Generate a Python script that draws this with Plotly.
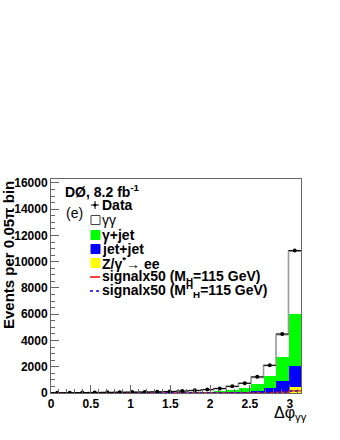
import numpy as np
import plotly.graph_objects as go

# 20 bins of 0.05*pi in delta phi
nbins = 20
bw = np.pi / nbins
edges = np.arange(nbins) * bw

# event counts per bin
data_counts = [15, 20, 30, 40, 50, 60, 70, 80, 95, 120, 150, 200, 260, 340, 510, 740, 1230, 2110, 4500, 10850]
zee = [2, 2, 3, 3, 3, 4, 4, 5, 5, 6, 7, 8, 10, 12, 15, 20, 25, 35, 60, 450]
jetjet = [3, 3, 4, 5, 6, 7, 8, 9, 10, 12, 14, 18, 22, 30, 45, 70, 120, 340, 840, 1620]
gamjet = [4, 5, 7, 9, 11, 13, 15, 18, 22, 28, 35, 50, 70, 100, 180, 300, 520, 900, 1840, 3940]
diphoton = [4, 6, 10, 14, 18, 22, 26, 30, 38, 50, 70, 100, 140, 190, 260, 350, 520, 820, 1700, 4800]
sig_a = [3, 3, 3, 4, 4, 4, 5, 5, 5, 6, 6, 7, 8, 9, 11, 14, 20, 35, 70, 160]
sig_b = [2, 2, 3, 3, 3, 4, 4, 4, 5, 5, 6, 6, 7, 8, 10, 13, 18, 30, 60, 140]

fig = go.Figure()

# stacked backgrounds, bottom to top
stack = [("Z/γ*→ ee", zee, "#ffff00"),
         ("jet+jet", jetjet, "#0000ff"),
         ("γ+jet", gamjet, "#00ff00"),
         ("γγ", diphoton, "#ffffff")]
for name, vals, col in stack:
    fig.add_trace(go.Bar(x=edges, y=vals, width=bw, offset=0, name=name,
                         marker=dict(color=col, line=dict(width=0)), showlegend=False))

# grey outline of the total stack
total = np.sum([zee, jetjet, gamjet, diphoton], axis=0)
step_x = np.append(edges, np.pi)
step_y = np.append(total, total[-1])
fig.add_trace(go.Scatter(x=np.insert(step_x, 0, 0), y=np.insert(step_y, 0, 0), mode="lines",
                         line=dict(shape="hv", color="#9a9a9a", width=1.6), showlegend=False))

# signal x50 curves
fig.add_trace(go.Scatter(x=step_x, y=np.append(sig_a, sig_a[-1]), mode="lines",
                         line=dict(shape="hv", color="#ff0000", width=1.2), showlegend=False))
fig.add_trace(go.Scatter(x=step_x, y=np.append(sig_b, sig_b[-1]), mode="lines",
                         line=dict(shape="hv", color="#0000ff", width=1.2, dash="dot"), showlegend=False))

# data points with bin-width x errors
fig.add_trace(go.Scatter(x=edges + bw / 2, y=data_counts, mode="markers",
                         marker=dict(color="black", size=4),
                         error_x=dict(type="constant", value=bw / 2, color="black", thickness=1, width=0),
                         showlegend=False))

# pixel -> paper helpers (plot box 51..301 x 179..393)
def px(x):
    return (x - 51) / 250.0

def py(y):
    return (393 - y) / 214.0

tf = dict(family="Liberation Sans", size=12, color="black", weight="bold")
fig.update_layout(
    width=340, height=440,
    margin=dict(l=51, r=39, t=179, b=47),
    paper_bgcolor="white", plot_bgcolor="white",
    barmode="stack", bargap=0,
    xaxis=dict(range=[0, np.pi], tickvals=[0, 0.5, 1, 1.5, 2, 2.5, 3],
               ticktext=["0", "0.5", "1", "1.5", "2", "2.5", "3"],
               ticks="inside", ticklen=8, tickcolor="#666", tickwidth=1,
               minor=dict(dtick=0.1, ticks="inside", ticklen=4, tickcolor="#666"),
               showline=True, linecolor="#666", linewidth=1, mirror=True,
               showgrid=False, zeroline=False, tickfont=tf, automargin=False),
    yaxis=dict(range=[0, 16300], tickvals=list(range(0, 16001, 2000)), tickformat="d",
               ticks="inside", ticklen=8, tickcolor="#666", tickwidth=1,
               minor=dict(dtick=500, ticks="inside", ticklen=4, tickcolor="#666"),
               showline=True, linecolor="#666", linewidth=1, mirror=True,
               showgrid=False, zeroline=False, tickfont=tf, automargin=False),
)

ann = []
ann.append(dict(text="Events per 0.05π bin", x=px(8), y=py(179), xref="paper", yref="paper",
                textangle=-90, xanchor="center", yanchor="top", showarrow=False,
                font=dict(family="Liberation Sans", size=15, color="black", weight="bold")))
ann.append(dict(text="Δφ<sub>γγ</sub>", x=px(309), y=py(413), xref="paper", yref="paper",
                xanchor="right", yanchor="middle", showarrow=False,
                font=dict(family="Liberation Sans", size=16, color="black")))
ann.append(dict(text="DØ, 8.2 fb<sup>-1</sup>", x=px(63), y=py(191), xref="paper", yref="paper",
                xanchor="left", yanchor="middle", showarrow=False,
                font=dict(family="Liberation Sans", size=14, color="black", weight="bold")))
ann.append(dict(text="(e)", x=px(64), y=py(213), xref="paper", yref="paper",
                xanchor="left", yanchor="middle", showarrow=False,
                font=dict(family="Liberation Sans", size=14, color="black")))

leg_items = ["Data", "γγ", "γ+jet", "jet+jet", "Z/γ<sup>*</sup>→ ee",
             "signalx50 (M<sub>H</sub>=115 GeV)", "signalx50 (M<sup>H</sup><sub>H</sub>=115 GeV)"]
leg_y = [205, 220, 235, 249, 263, 277, 290]
for t, yy in zip(leg_items, leg_y):
    ann.append(dict(text=t, x=px(100), y=py(yy), xref="paper", yref="paper",
                    xanchor="left", yanchor="middle", showarrow=False,
                    font=dict(family="Liberation Sans", size=14, color="black",
                              weight="normal" if t == "γγ" else "bold")))
fig.update_layout(annotations=ann)

shapes = []
# data symbol: cross with dot
shapes.append(dict(type="line", x0=px(91), x1=px(99), y0=py(205), y1=py(205), xref="paper", yref="paper",
                   line=dict(color="black", width=1)))
shapes.append(dict(type="line", x0=px(95), x1=px(95), y0=py(201), y1=py(209), xref="paper", yref="paper",
                   line=dict(color="black", width=1)))
shapes.append(dict(type="circle", x0=px(93.5), x1=px(96.5), y0=py(203.5), y1=py(206.5), xref="paper", yref="paper",
                   fillcolor="black", line=dict(width=0)))
# boxes
for yy, col, lc in [(220, "white", "#444"), (235, "#00ff00", "#00ff00"), (249, "#0000ff", "#0000ff"), (263, "#ffff00", "#ffff00")]:
    shapes.append(dict(type="rect", x0=px(91), x1=px(100), y0=py(yy - 4.5), y1=py(yy + 4.5), xref="paper", yref="paper",
                       fillcolor=col, line=dict(color=lc, width=1)))
shapes.append(dict(type="line", x0=px(90), x1=px(100), y0=py(277), y1=py(277), xref="paper", yref="paper",
                   line=dict(color="#ff0000", width=1.5)))
shapes.append(dict(type="line", x0=px(90), x1=px(100), y0=py(291), y1=py(291), xref="paper", yref="paper",
                   line=dict(color="#0000ff", width=1.5, dash="dot")))
fig.update_layout(shapes=shapes)

# drop the default 8px page margin so the figure sits at the window corner
fig.write_html("out.html", config={"displayModeBar": False},
               post_script="document.body.style.margin='0';")
